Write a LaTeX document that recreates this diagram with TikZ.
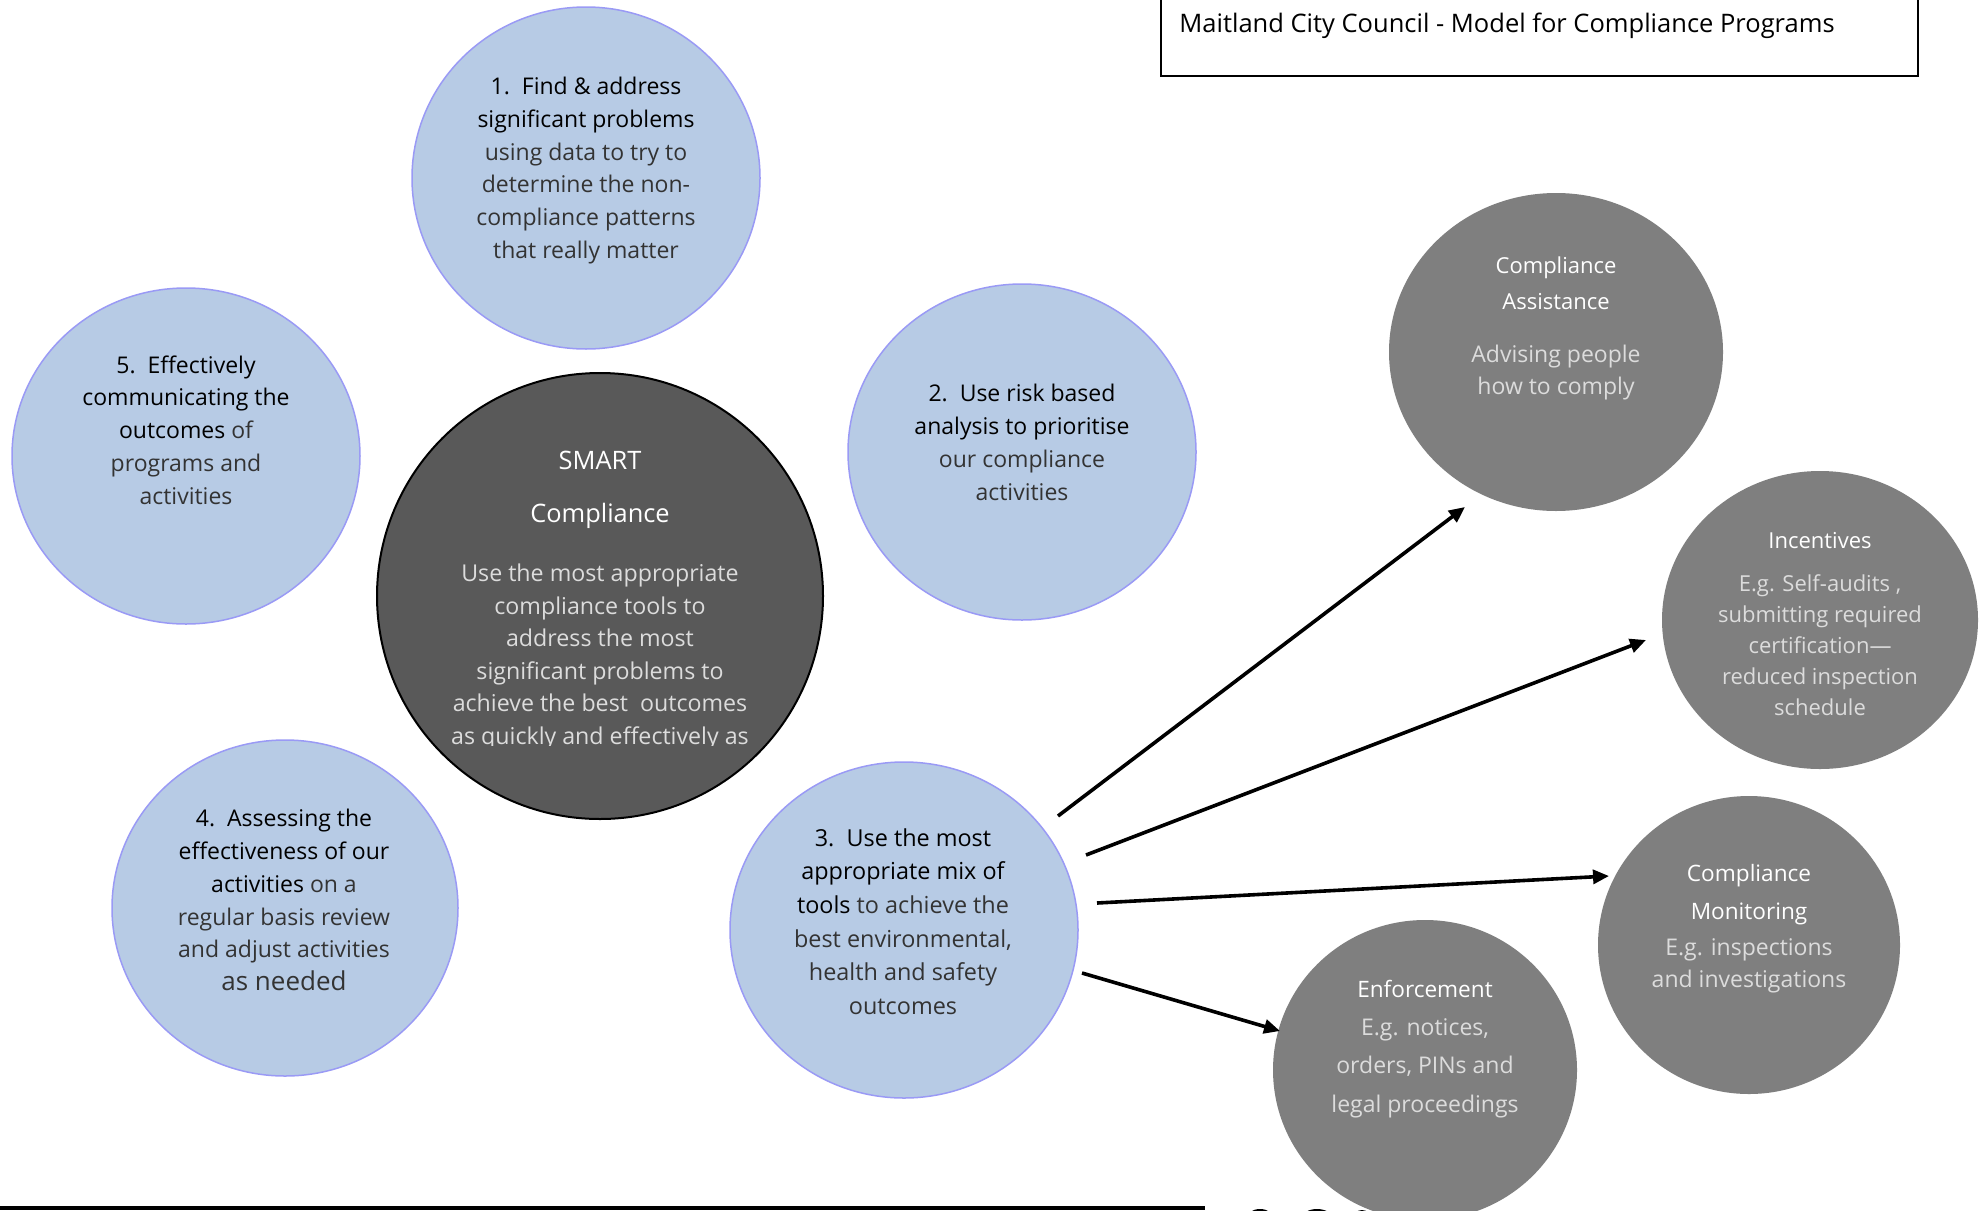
\documentclass[tikz,border=0pt]{standalone}
\usepackage{fontspec}
\setmainfont{Open Sans}
\usetikzlibrary{arrows.meta,shapes.geometric}
\definecolor{cfill}{HTML}{B7CBE5}
\definecolor{cedge}{HTML}{9A9AF5}
\definecolor{smartfill}{HTML}{595959}
\definecolor{toolfill}{HTML}{7F7F7F}
\definecolor{lighttext}{HTML}{333333}
\definecolor{paletext}{HTML}{DCDCDC}
\begin{document}
\begin{tikzpicture}[x=0.5pt,y=-0.5pt,
  stepcirc/.style={ellipse, fill=cfill, draw=cedge, line width=0.75pt, inner sep=0pt},
  toolcirc/.style={ellipse, fill=toolfill, draw=none, inner sep=0pt},
  smartcirc/.style={ellipse, fill=smartfill, draw=black, line width=1pt, inner sep=0pt},
  steptext/.style={align=center, inner sep=0pt, text=lighttext, font=\fontsize{11.5}{16.4}\selectfont},
  tooltitle/.style={align=center, inner sep=0pt, text=white, font=\fontsize{11}{18}\selectfont},
  toolbody/.style={align=center, inner sep=0pt, text=paletext, font=\fontsize{11.5}{16}\selectfont},
  arr/.style={line width=1.8pt, -{Triangle[length=8pt,width=7pt]}}]
\useasboundingbox (0,0) rectangle (1984,1210);
\clip (0,0) rectangle (1984,1210);
\fill[white] (0,0) rectangle (1984,1210);

% title box
\node[draw=black, line width=0.8pt, minimum width=378.5pt, minimum height=50pt, inner sep=0pt, anchor=south west] (titlebox) at (1160,77) {};
\node[anchor=west, inner sep=0pt, font=\fontsize{12.75}{15}\selectfont] (title) at (1179,26) {Maitland City Council - Model for Compliance Programs};

% step circles
\node[stepcirc, minimum width=174pt, minimum height=171pt] (c1) at (586,178) {};
\node[stepcirc, minimum width=174pt, minimum height=168pt] (c5) at (186,456) {};
\node[stepcirc, minimum width=174pt, minimum height=168pt] (c2) at (1022,452) {};
\node[stepcirc, minimum width=173pt, minimum height=168pt] (c4) at (285,908) {};
\node[stepcirc, minimum width=174pt, minimum height=168pt] (c3) at (904,930) {};
\node[smartcirc, minimum width=223pt, minimum height=223pt] (smart) at (600,596) {};

% tool circles
\node[toolcirc, minimum width=167pt, minimum height=159pt] (ca) at (1556,352) {};
\node[toolcirc, minimum width=158pt, minimum height=149pt] (inc) at (1820,620) {};
\node[toolcirc, minimum width=151pt, minimum height=149pt] (cm) at (1749,945) {};
\node[toolcirc, minimum width=152pt, minimum height=150pt] (enf) at (1425,1070) {};

% step texts
\node[steptext] (t1) at (586,170.5) {{\color{black}1.\ \ Find \& address}\\{\color{black}significant problems}\\using data to try to\\determine the non-\\compliance patterns\\that really matter};
\node[steptext] (t5) at (186,430) {{\color{black}5.\ \ Effectively}\\{\color{black}communicating the}\\{\color{black}outcomes} of\\programs and\\activities};
\node[steptext] (t2) at (1022,442.5) {{\color{black}2.\ \ Use risk based}\\{\color{black}analysis to prioritise}\\our compliance\\activities};
\node[steptext] (t4) at (284,900) {{\color{black}4.\ \ Assessing the}\\{\color{black}effectiveness of our}\\{\color{black}activities} on a\\regular basis review\\and adjust activities\\{\fontsize{13}{16.6}\selectfont as needed}};
\node[steptext, font=\fontsize{11.7}{16.8}\selectfont] (t3) at (903,921.5) {{\color{black}3.\ \ Use the most}\\{\color{black}appropriate mix of}\\{\color{black}tools} to achieve the\\best environmental,\\health and safety\\outcomes};

% SMART texts
\node[align=center, inner sep=0pt, text=white, font=\fontsize{12.7}{26.5}\selectfont] (smarttitle) at (600,490) {SMART\\Compliance};
\begin{scope}
\clip (380,540) rectangle (820,745);
\node[align=center, inner sep=0pt, text=paletext, font=\fontsize{11.6}{16.3}\selectfont] (smartbody) at (600,657) {Use the most appropriate\\compliance tools to\\address the most\\significant problems to\\achieve the best\ \ outcomes\\as quickly and effectively as};
\end{scope}

% tool texts
\node[tooltitle] (catitle) at (1556,283) {Compliance\\Assistance};
\node[toolbody] (cabody) at (1556,373) {Advising people\\how to comply};
\node[tooltitle] (inctitle) at (1820,541) {Incentives};
\node[toolbody, font=\fontsize{11}{15.5}\selectfont] (incbody) at (1820,645) {E.g. Self-audits ,\\submitting required\\certification—\\reduced inspection\\schedule};
\node[tooltitle, font=\fontsize{11.3}{19}\selectfont] (cmtitle) at (1749,895) {Compliance\\Monitoring};
\node[toolbody] (cmbody) at (1749,966) {E.g. inspections\\and investigations};
\node[tooltitle, font=\fontsize{11.3}{19}\selectfont] (enftitle) at (1425,989) {Enforcement};
\node[toolbody, font=\fontsize{11.5}{19.2}\selectfont] (enfbody) at (1425,1068) {E.g. notices,\\orders, PINs and\\legal proceedings};

% arrows
\coordinate (a1s) at (1058,816);
\coordinate (a1e) at (1465,507);
\coordinate (a2s) at (1086,855);
\coordinate (a2e) at (1646,640);
\coordinate (a3s) at (1097,903);
\coordinate (a3e) at (1609,876);
\coordinate (a4s) at (1082,973);
\coordinate (a4e) at (1280,1031);
\draw[arr] (a1s) -- (a1e);
\draw[arr] (a2s) -- (a2e);
\draw[arr] (a3s) -- (a3e);
\draw[arr] (a4s) -- (a4e);

% bottom edge line
\coordinate (bl) at (0,1208);
\coordinate (br) at (1205,1208);
\draw[line width=2pt] (bl) -- (br);
\fill[black] (1260,1219) ellipse [x radius=14, y radius=10];
\fill[black] (1317,1219) ellipse [x radius=16, y radius=10];
\fill[black] (1362,1220) ellipse [x radius=10, y radius=10];
\end{tikzpicture}
\end{document}
